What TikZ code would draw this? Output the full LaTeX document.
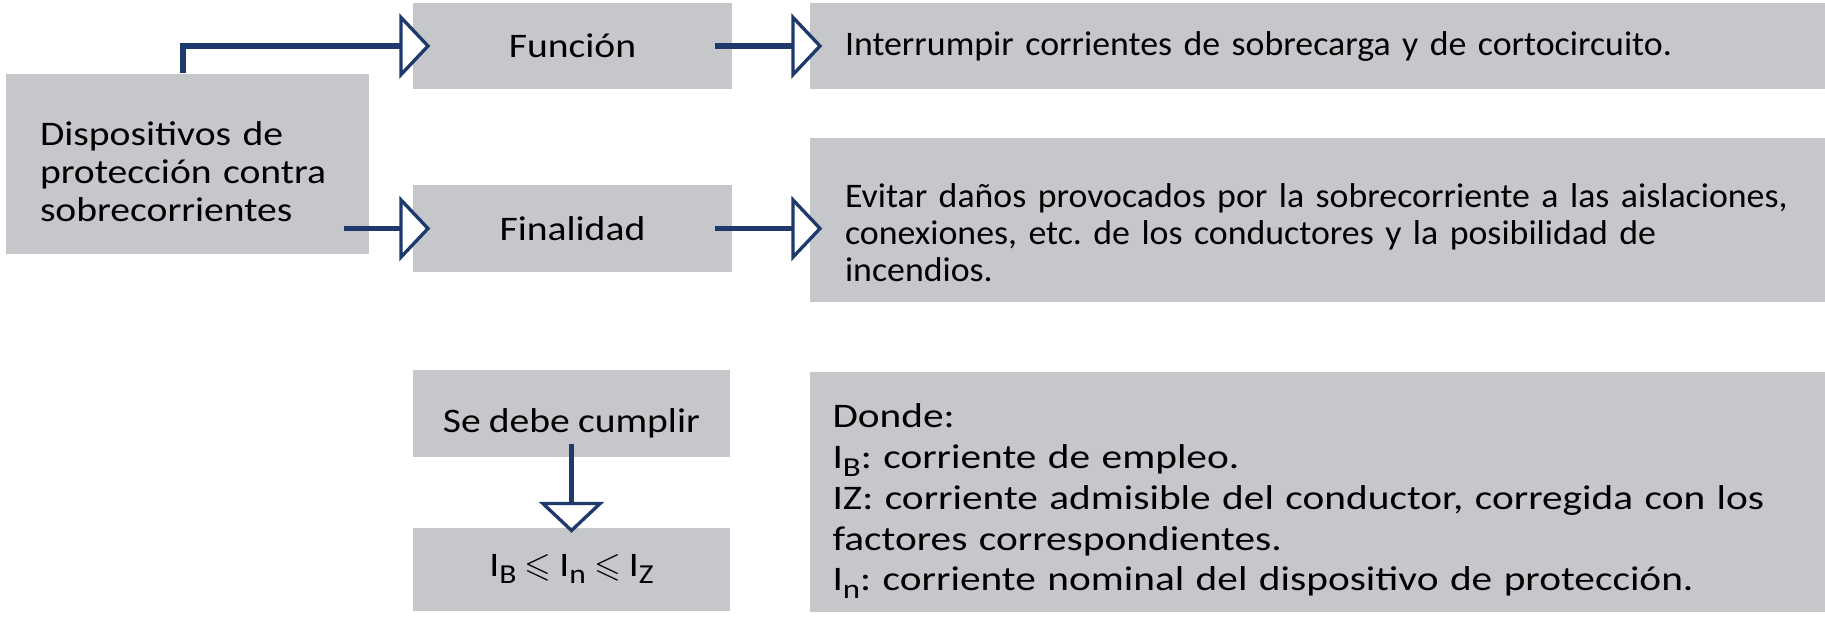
\documentclass[tikz,border=0pt]{standalone}
\usepackage{amssymb}
\usepackage{fontspec}
\setmainfont[FakeStretch=1.15, WordSpace=0.9]{Carlito}
\newfontfamily\condfont[FakeStretch=1.04, WordSpace=0.6]{Carlito}
\newfontfamily\dondefont[FakeStretch=1.2, WordSpace=0.9]{Carlito}
\usetikzlibrary{arrows.meta}

\definecolor{boxgray}{RGB}{197,199,203}
\definecolor{linkblue}{RGB}{30,58,108}
\newcommand\subidx[1]{\raisebox{-0.45ex}{\fontsize{7.8pt}{8pt}\selectfont #1}}
\newcommand\lowstrut[1]{\rule{0pt}{#1}}
\frenchspacing

\begin{document}
\begin{tikzpicture}[
    box/.style={fill=boxgray, inner sep=0pt, font=\fontsize{9.8pt}{11.4pt}\selectfont},
    link/.style={draw=linkblue, line width=1.7pt,
      -{Triangle[open, fill=white, length=0.31cm, width=0.65cm, line width=0.95pt]}}]
  \useasboundingbox (0, 0) rectangle (18.25, -6.2);

  \node[box, minimum width=3.63cm, minimum height=1.8cm, text width=2.95cm, align=left,
      font=\fontsize{9.8pt}{10.8pt}\selectfont] (disp) at (1.875, -1.64)
    {\lowstrut{11pt}Dispositivos de\\protección contra\\sobrecorrientes};

  \node[box, minimum width=3.19cm, minimum height=0.86cm] (fun) at (5.725, -0.46) {Función};
  \node[box, minimum width=3.19cm, minimum height=0.87cm] (fin) at (5.725, -2.285) {Finalidad};

  \node[box, minimum width=10.15cm, minimum height=0.86cm, text width=9.45cm, align=left] (inte) at (13.175, -0.46)
    {\condfont Interrumpir corrientes de sobrecarga y de cortocircuito.};
  \node[box, minimum width=10.15cm, minimum height=1.64cm, text width=9.45cm, align=left,
      font=\fontsize{9.8pt}{10.5pt}\condfont] (evi) at (13.175, -2.2)
    {\lowstrut{14pt}Evitar daños provocados por la sobrecorriente a las aislaciones,\\conexiones, etc. de los conductores y la posibilidad de\\incendios.};

  \node[box, minimum width=3.17cm, minimum height=0.87cm] (deb) at (5.715, -4.135)
    {\lowstrut{12.5pt}Se debe cumplir};
  \node[box, minimum width=3.17cm, minimum height=0.83cm] (ib) at (5.715, -5.69)
    {I\subidx{B} $\leqslant$ I\subidx{n} $\leqslant$ I\subidx{Z}};

  \node[box, minimum width=10.15cm, minimum height=2.4cm, text width=9.7cm, align=left,
      font=\fontsize{9.8pt}{11.6pt}\dondefont] (don) at (13.175, -4.92)
    {\lowstrut{12pt}Donde:\\
     I\subidx{B}: corriente de empleo.\\
     IZ: corriente admisible del conductor, corregida con los\\
     factores correspondientes.\\
     I\subidx{n}: corriente nominal del dispositivo de protección.};

  \draw[link, shorten >=-0.18cm] ([xshift=-0.045cm]disp.north) |- (fun.west);
  \draw[link, shorten <=-0.26cm, shorten >=-0.18cm] (disp.east |- fin.west) -- (fin.west);
  \draw[link, shorten <=-0.18cm, shorten >=-0.13cm] (fun.east) -- (fun.east -| inte.west);
  \draw[link, shorten <=-0.18cm, shorten >=-0.13cm] (fin.east) -- (fin.east -| evi.west);
  \draw[link, shorten <=-0.14cm, shorten >=-0.06cm] (deb.south) -- (ib.north);
\end{tikzpicture}
\end{document}
